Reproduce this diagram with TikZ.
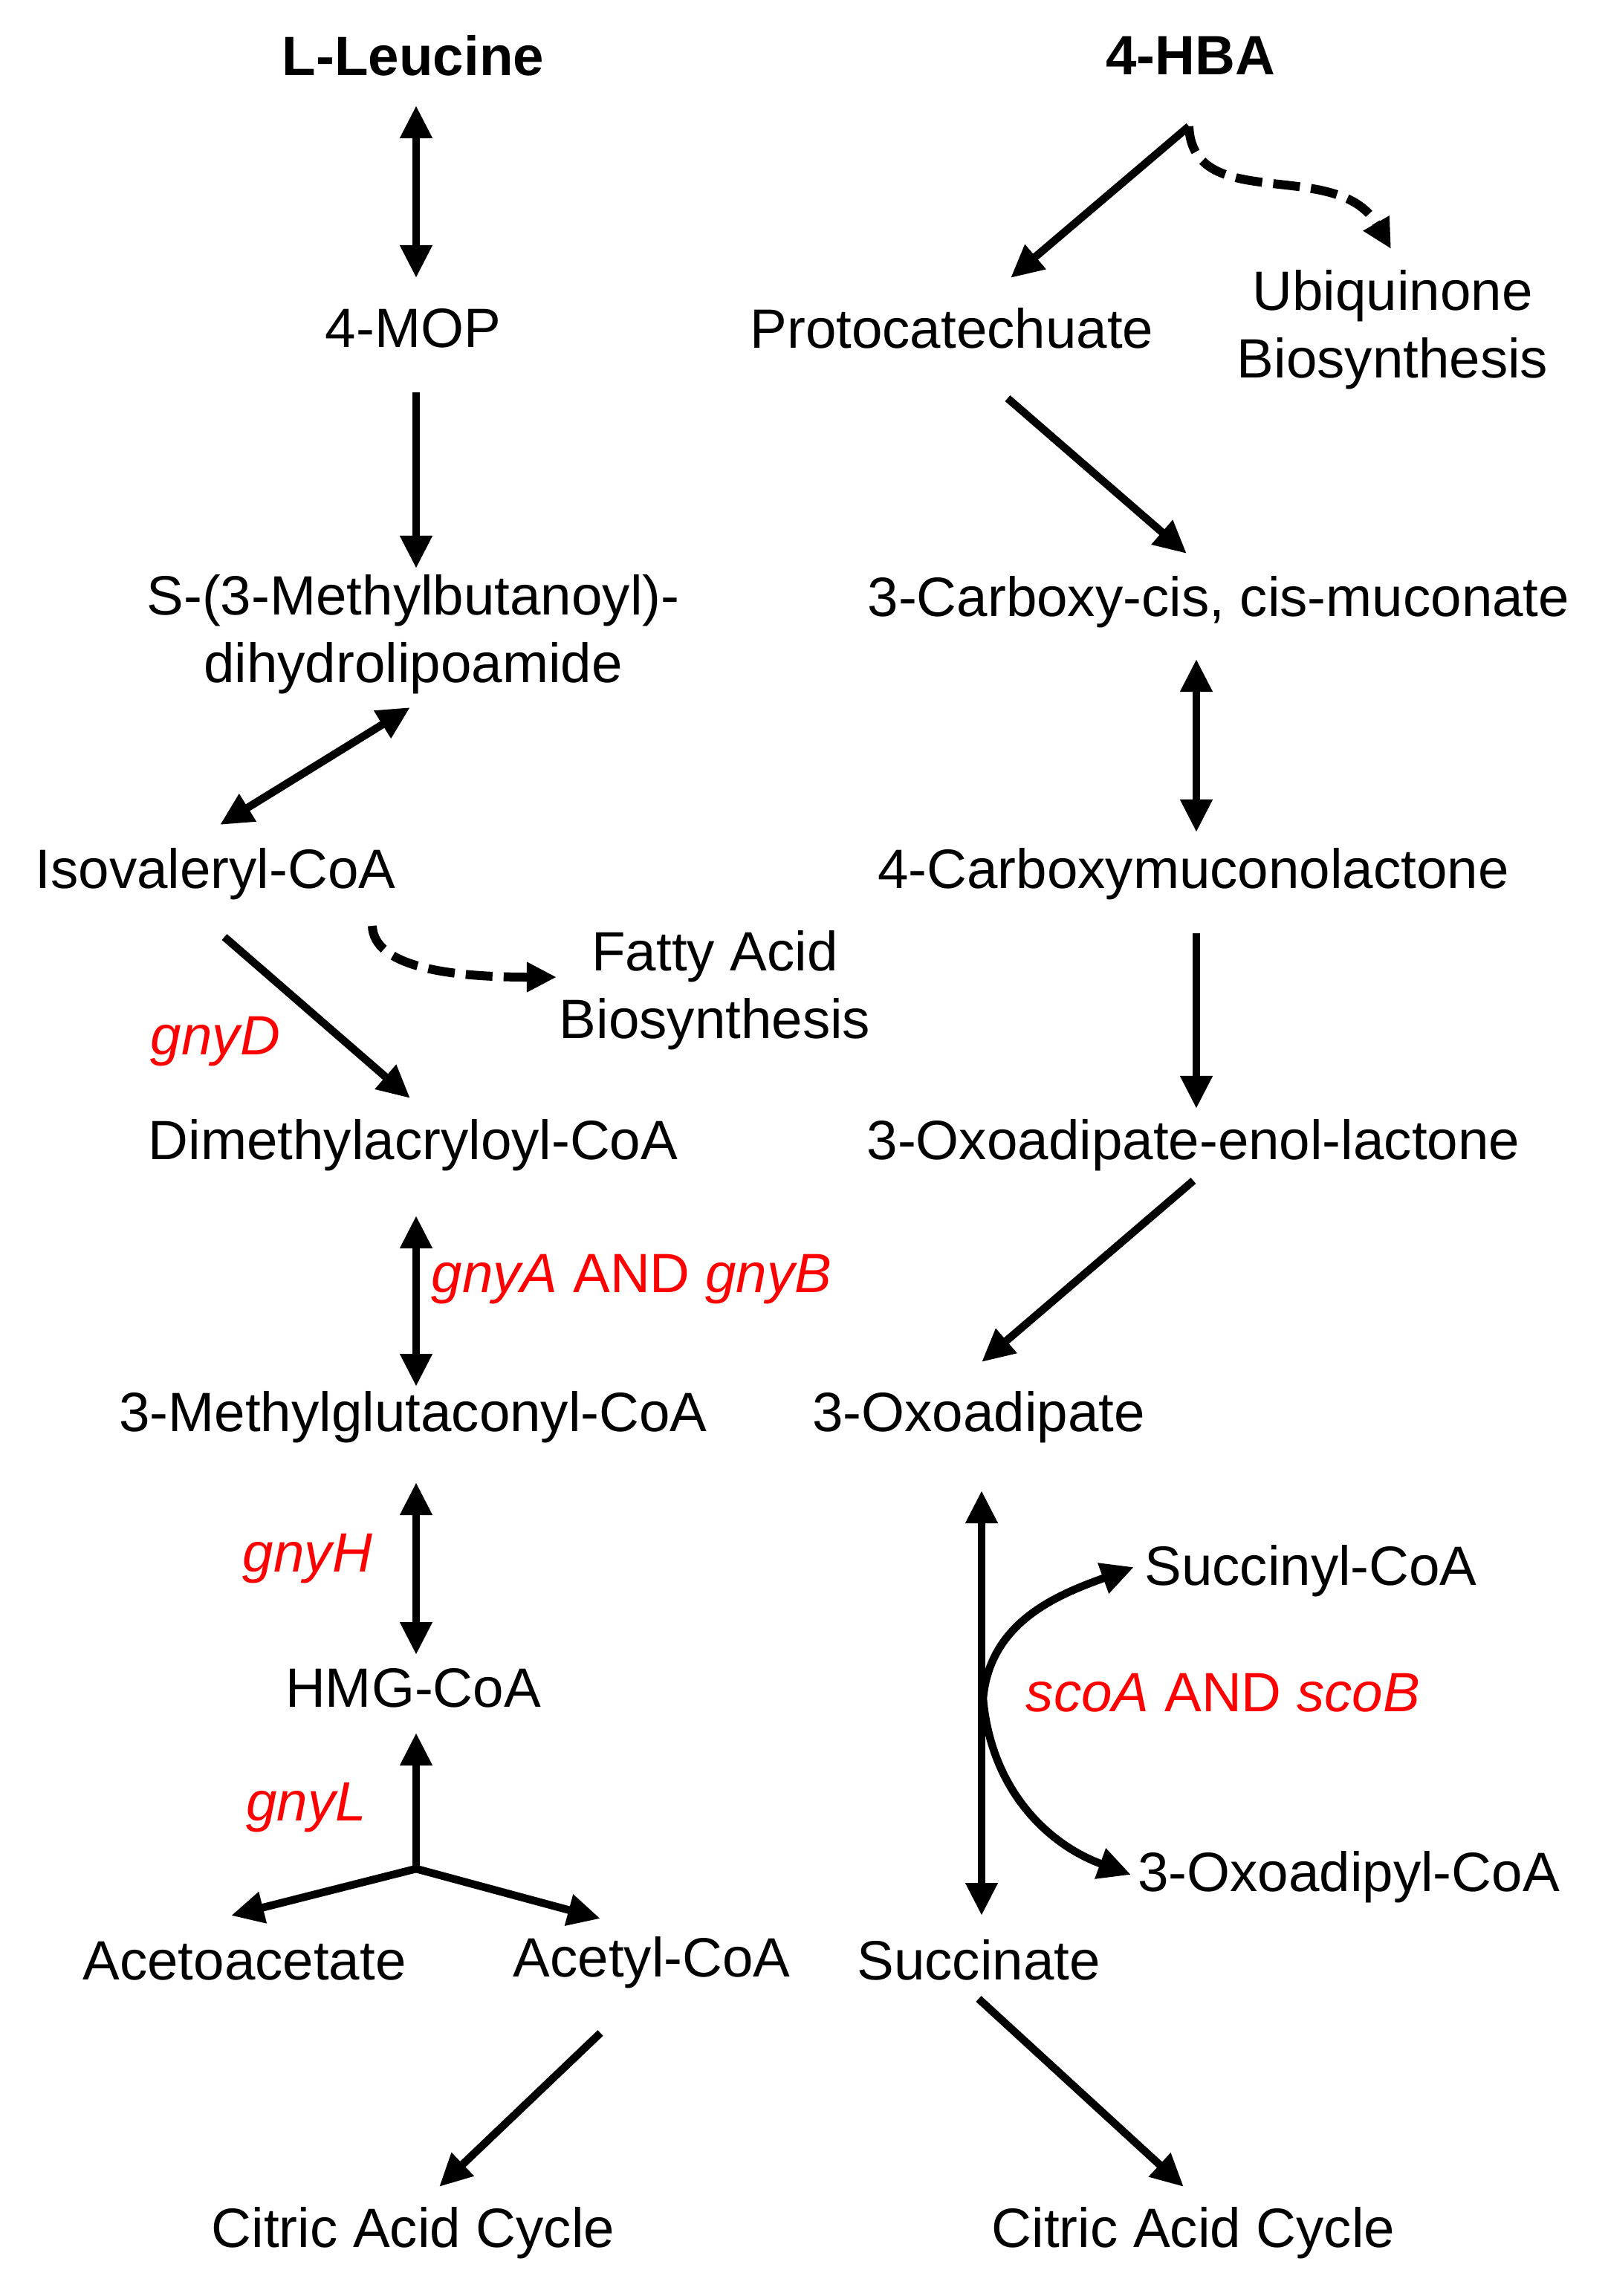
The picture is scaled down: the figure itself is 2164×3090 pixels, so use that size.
\documentclass[tikz,border=0pt]{standalone}
\usepackage{fontspec}
\setmainfont{Liberation Sans}
\usepackage{tikz}
\usetikzlibrary{arrows.meta,calc}
\tikzset{>={Triangle[length=0.44cm,width=0.41cm]}}
\tikzset{
  chem/.style={inner sep=0pt,align=center,font=\fontsize{21.2}{25.8}\selectfont},
  gene/.style={chem,text=red},
  reac/.style={->,line width=0.105cm},
  rev/.style={<->,line width=0.105cm},
  side/.style={->,line width=0.12cm,dash pattern=on 0.36cm off 0.15cm,
    >={Triangle[length=0.40cm,width=0.38cm]}}
}

\begin{document}
\begin{tikzpicture}[x=0.01cm,y=-0.01cm]
    \useasboundingbox (0,0) rectangle (2164,3090);
    % leucine branch
    \node[chem,font=\fontsize{21.2}{25.8}\selectfont\bfseries] (leu) at (556,75) {L-Leucine};
    \node[chem] (mop) at (556,442) {4-MOP};
    \node[chem] (smb) at (556,854) {S-(3-Methylbutanoyl)-\\dihydrolipoamide};
    \node[chem] (iso) at (290,1176) {Isovaleryl-CoA};
    \node[chem] (fab) at (962,1333) {Fatty Acid\\Biosynthesis};
    \node[chem] (dma) at (556,1541) {Dimethylacryloyl-CoA};
    \node[chem] (mgc) at (556,1907) {3-Methylglutaconyl-CoA};
    \node[chem] (hmg) at (556,2272) {HMG-CoA};
    \node[chem] (aca) at (329,2639) {Acetoacetate};
    \node[chem] (acc) at (877,2641) {Acetyl-CoA};
    \node[chem] (tcl) at (556,3005) {Citric Acid Cycle};
    % 4-HBA branch
    \node[chem,font=\fontsize{21.2}{25.8}\selectfont\bfseries] (hba) at (1602,75) {4-HBA};
    \node[chem] (pca) at (1281,442) {Protocatechuate};
    \node[chem] (ubi) at (1874,444) {Ubiquinone\\Biosynthesis};
    \node[chem] (ccm) at (1640,810) {3-Carboxy-cis, cis-muconate};
    \node[chem] (cml) at (1606,1176) {4-Carboxymuconolactone};
    \node[chem] (oel) at (1606,1541) {3-Oxoadipate-enol-lactone};
    \node[chem] (oxo) at (1317,1907) {3-Oxoadipate};
    \node[chem] (sca) at (1764,2114) {Succinyl-CoA};
    \node[chem] (opc) at (1815,2526) {3-Oxoadipyl-CoA};
    \node[chem] (sin) at (1317,2638) {Succinate};
    \node[chem] (tcr) at (1606,3005) {Citric Acid Cycle};
    % genes
    \node[gene] (gnyd) at (290,1402) {\itshape gnyD};
    \node[gene] (gnyab) at (850,1722) {\textit{gnyA} AND \textit{gnyB}};
    \node[gene] (gnyh) at (414,2098) {\itshape gnyH};
    \node[gene] (gnyl) at (412,2433) {\itshape gnyL};
    \node[gene] (scoab) at (1646,2278) {\textit{scoA} AND \textit{scoB}};

    \draw[rev] ($(leu)+(4,67)$) -- ($(mop)+(4,-68)$);
    \draw[reac] ($(mop)+(4,86)$) -- ($(smb)+(4,-89)$);
    \draw[rev] ($(smb)+(-4,98)$) -- ($(iso)+(6,-66)$);
    \draw[reac] ($(iso)+(12,85)$) -- ($(dma)+(-4,-63)$);
    \draw[side] ($(iso)+(211,70)$) .. controls (503,1300) and (600,1315) .. ($(fab)+(-213,-18)$);
    \draw[rev] ($(dma)+(4,95)$) -- ($(mgc)+(4,-41)$);
    \draw[rev] ($(mgc)+(4,88)$) -- ($(hmg)+(4,-45)$);
    \coordinate (split) at (560,2515);
    \draw[reac] (split) -- ($(hmg)+(4,60)$);
    \draw[reac] (split) -- ($(aca)+(-18,-61)$);
    \draw[reac] (split) -- ($(acc)+(-69,-59)$);
    \draw[reac] ($(acc)+(-69,95)$) -- ($(tcl)+(35,-62)$);

    \draw[reac] ($(hba)+(-2,95)$) -- ($(pca)+(79,-68)$);
    \draw[side] ($(hba)+(-2,95)$) .. controls (1605,290) and (1800,210) .. ($(ubi)+(-2,-109)$);
    \draw[reac] ($(pca)+(75,94)$) -- ($(ccm)+(-43,-65)$);
    \draw[rev] ($(ccm)+(-30,77)$) -- ($(cml)+(4,-56)$);
    \draw[reac] ($(cml)+(4,80)$) -- ($(oel)+(4,-49)$);
    \draw[reac] ($(oel)+(0,48)$) -- ($(oxo)+(4,-74)$);
    \draw[rev] ($(oxo)+(4,99)$) -- ($(sin)+(4,-60)$);
    \coordinate (sco) at (1323,2286);
    \draw[reac] (sco) to[out=85,in=200] ($(sca)+(-238,-5)$);
    \draw[reac] (sco) to[out=-85,in=160] ($(opc)+(-293,-3)$);
    \draw[reac] ($(sin)+(0,52)$) -- ($(tcr)+(-13,-62)$);
\end{tikzpicture}
\end{document}
